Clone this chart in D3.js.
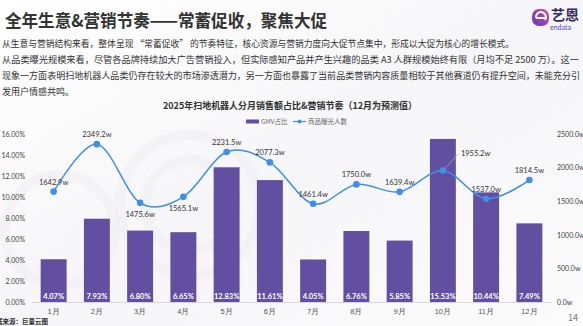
<!DOCTYPE html>
<html><head><meta charset="utf-8">
<script src="https://cdn.jsdelivr.net/npm/d3@7"></script>
<style>
html,body{margin:0;padding:0;background:#fff;}
svg{display:block;font-family:"Noto Sans CJK SC","Noto Sans",sans-serif;}
</style></head>
<body><svg id="c" width="583" height="326"></svg>
<script>
const months = ["1月","2月","3月","4月","5月","6月","7月","8月","9月","10月","11月","12月"];
const gmvShare = [4.07,7.93,6.80,6.65,12.83,11.61,4.05,6.76,5.85,15.53,10.44,7.49];
const exposure = [1642.9,2349.2,1475.6,1565.1,2231.5,2077.3,1461.4,1750.0,1639.4,1955.2,1537.0,1814.5];
const labelPos = ["top","top","bottom","bottom","top","top","top","top","top","right","top","top"];
const leftTicks = [0,2,4,6,8,10,12,14,16];
const rightTicks = [0,500,1000,1500,2000,2500];
const title = "全年生意&营销节奏——常蓄促收，聚焦大促";
const paragraphs = [
 "从生意与营销结构来看，整体呈现 “常蓄促收” 的节奏特征，核心资源与营销力度向大促节点集中，形成以大促为核心的增长模式。",
 "从品类曝光规模来看，尽管各品牌持续加大广告营销投入，但实际感知产品并产生兴趣的品类 A3 人群规模始终有限（月均不足 2500 万）。这一",
 "现象一方面表明扫地机器人品类仍存在较大的市场渗透潜力，另一方面也暴露了当前品类营销内容质量相较于其他赛道仍有提升空间，未能充分引",
 "发用户情感共鸣。"
];
const chartTitle = "2025年扫地机器人分月销售额占比&营销节奏（12月为预测值）";
const legendNames = ["GMV占比","商品曝光人数"];
const source = "数据来源：巨量云图";

const svg = d3.select("#c");
const defs = svg.append("defs");
const bg = defs.append("linearGradient").attr("id","bg").attr("x1",0).attr("y1",0).attr("x2",1).attr("y2",1);
bg.append("stop").attr("offset","0").attr("stop-color","#ffffff");
bg.append("stop").attr("offset","0.5").attr("stop-color","#f6f6f8");
bg.append("stop").attr("offset","1").attr("stop-color","#fbfbfc");
svg.append("rect").attr("width",583).attr("height",326).attr("fill","url(#bg)");
// faint decorative circles
[[190,205,70],[190,205,45],[60,230,55]].forEach(([cx,cy,r])=>{
  svg.append("circle").attr("cx",cx).attr("cy",cy).attr("r",r).attr("fill","none").attr("stroke","#eeeef2").attr("stroke-width",10).attr("opacity",0.5);
});

// logo
const lg = defs.append("linearGradient").attr("id","lg").attr("x1",0).attr("y1",1).attr("x2",1).attr("y2",0);
lg.append("stop").attr("offset","0").attr("stop-color","#5b3cc4");
lg.append("stop").attr("offset","1").attr("stop-color","#e0469c");
svg.append("rect").attr("x",532).attr("y",9).attr("width",17).attr("height",17).attr("rx",7).attr("fill","url(#lg)");
svg.append("path").attr("d","M536 18 A5 5 0 1 1 545 20 M536 18 L545 18").attr("fill","none").attr("stroke","#fff").attr("stroke-width",2);
svg.append("text").attr("x",551).attr("y",20).attr("font-size",14).attr("font-weight","bold").attr("fill","#3a2a5a").text("艺恩");
svg.append("text").attr("x",550).attr("y",30).attr("font-size",7).attr("fill","#5b3cc4").attr("font-family","Lato, sans-serif").text("endata");

// title & paragraphs
svg.append("text").attr("x",5).attr("y",27).attr("font-size",17.5).attr("font-weight","bold").attr("fill","#333")
  .attr("textLength",322).attr("lengthAdjust","spacingAndGlyphs").text(title);
const pY = [47,63,79,95];
const pW = [512,577,578,null];
paragraphs.forEach((p,i)=>{
  const t = svg.append("text").attr("x",2).attr("y",pY[i]).attr("font-size",9).attr("fill","#333").text(p);
  if(pW[i]) t.attr("textLength",pW[i]).attr("lengthAdjust","spacingAndGlyphs");
});

svg.append("text").attr("x",290).attr("y",109).attr("text-anchor","middle").attr("font-size",9.5).attr("font-weight","bold").attr("fill","#333")
  .attr("textLength",254).attr("lengthAdjust","spacingAndGlyphs").text(chartTitle);

// legend
svg.append("rect").attr("x",246).attr("y",119.5).attr("width",13).attr("height",4).attr("fill","#634fa1");
svg.append("text").attr("x",261).attr("y",124).attr("font-size",6.5).attr("fill","#666").text(legendNames[0]);
svg.append("line").attr("x1",293).attr("x2",306).attr("y1",121.5).attr("y2",121.5).attr("stroke","#3d8fe8").attr("stroke-width",1.2);
svg.append("circle").attr("cx",299.5).attr("cy",121.5).attr("r",2).attr("fill","#3d8fe8");
svg.append("text").attr("x",308).attr("y",124).attr("font-size",6.5).attr("fill","#666").text(legendNames[1]);

// scales
const x = d3.scaleBand().domain(months).range([32,551]).paddingInner(0.4).paddingOuter(0.2);
const yL = d3.scaleLinear().domain([0,16]).range([302,134]);
const yR = d3.scaleLinear().domain([0,2500]).range([302,134]);

// left axis
const la = svg.append("g").attr("transform","translate(25,0)")
  .call(d3.axisLeft(yL).tickValues(leftTicks).tickSize(0).tickPadding(0).tickFormat(d=>d.toFixed(2)+"%"));
la.select(".domain").remove();
la.selectAll("text").attr("font-size",7).attr("fill","#444").attr("font-family","Lato, 'Noto Sans', sans-serif");
// right axis
const ra = svg.append("g").attr("transform","translate(557,0)")
  .call(d3.axisRight(yR).tickValues(rightTicks).tickSize(0).tickPadding(0).tickFormat(d=>d.toFixed(1)+"w"));
ra.select(".domain").remove();
ra.selectAll("text").attr("font-size",7).attr("fill","#444").attr("font-family","Lato, 'Noto Sans', sans-serif");

// bars
svg.append("g").selectAll("rect").data(gmvShare).join("rect")
  .attr("x",(d,i)=>x(months[i])).attr("width",x.bandwidth())
  .attr("y",d=>yL(d)).attr("height",d=>yL(0)-yL(d)).attr("fill","#634fa1");
svg.append("g").selectAll("text").data(gmvShare).join("text")
  .attr("x",(d,i)=>x(months[i])+x.bandwidth()/2).attr("y",299)
  .attr("text-anchor","middle").attr("font-size",7.5).attr("font-weight","bold").attr("fill","#fff")
  .attr("font-family","Lato, 'Noto Sans', sans-serif")
  .text(d=>d.toFixed(2)+"%");

// x axis
const xa = svg.append("g").attr("transform","translate(0,302)")
  .call(d3.axisBottom(x).tickSize(0).tickPadding(7));
xa.select(".domain").attr("stroke","#d8d8dc");
xa.selectAll("text").attr("font-size",7.5).attr("fill","#555");

// line
const cx = i => x(months[i]) + x.bandwidth()/2;
const line = d3.line().x((d,i)=>cx(i)).y(d=>yR(d)).curve(d3.curveCardinal.tension(0));
svg.append("path").datum(exposure).attr("d",line).attr("fill","none").attr("stroke","#3d8fe8").attr("stroke-width",1.5);
svg.append("g").selectAll("circle").data(exposure).join("circle")
  .attr("cx",(d,i)=>cx(i)).attr("cy",d=>yR(d)).attr("r",3.3).attr("fill","#3d8fe8");
const lbl = svg.append("g");
exposure.forEach((d,i)=>{
  const px = cx(i), py = yR(d), pos = labelPos[i];
  let tx = px, ty = py - 7, anchor = "middle";
  if(pos==="bottom"){ ty = py + 14; }
  if(pos==="right"){
    lbl.append("line").attr("x1",px).attr("y1",py).attr("x2",px+16).attr("y2",py-17).attr("stroke","#aaa").attr("stroke-width",0.7);
    tx = px+18; ty = py-15; anchor = "start";
  }
  lbl.append("text").attr("x",tx).attr("y",ty).attr("text-anchor",anchor).attr("font-size",7.5).attr("fill","#333")
    .attr("font-family","Lato, 'Noto Sans', sans-serif").text(d.toFixed(1)+"w");
});

// source & page number
svg.append("text").attr("x",-10.5).attr("y",324).attr("font-size",6.5).attr("font-weight","bold").attr("fill","#333").text(source);
svg.append("text").attr("x",573).attr("y",321).attr("text-anchor","middle").attr("font-size",9).attr("fill","#777").text("14");
</script></body></html>
